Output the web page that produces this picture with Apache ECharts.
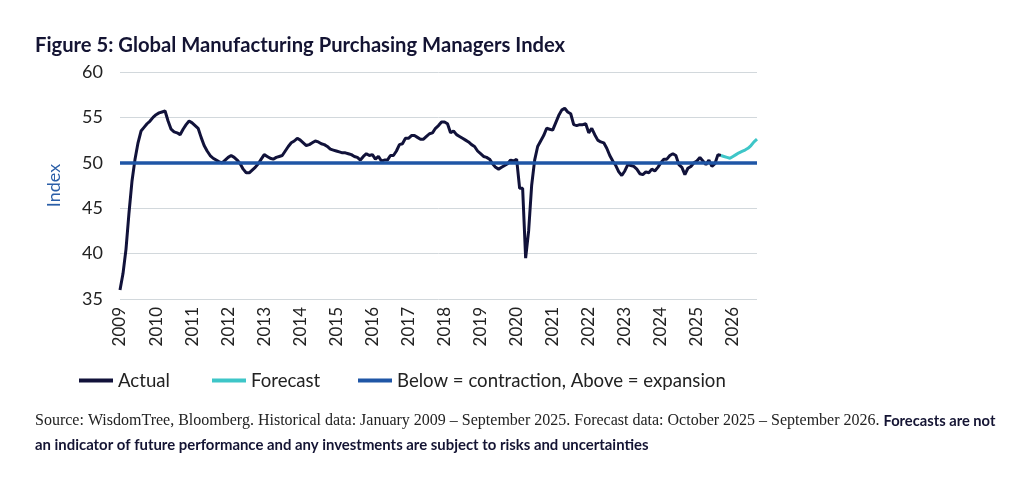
<!DOCTYPE html>
<html>
<head>
<meta charset="utf-8">
<script src="https://cdn.jsdelivr.net/npm/echarts@6/dist/echarts.min.js"></script>
<style>
html,body{margin:0;padding:0;background:#fff;}
#c{width:1014px;height:479px;}
</style>
</head>
<body>
<div id="c"></div>
<script>
// Tick labels (January of each year)
const YEARS = [2009,2010,2011,2012,2013,2014,2015,2016,2017,2018,2019,2020,2021,2022,2023,2024,2025,2026];
const LAST_YEAR_MONTHS = 9; // data runs to September 2026

// Actual PMI, Jan 2009 - Sep 2025 (monthly)
const ACTUAL_2009 = [36.0,37.8,40.5,44.5,48.0,50.4,52.2,53.5,53.9,54.3,54.6,55.0];
const ACTUAL_2010 = [55.3,55.5,55.6,55.7,54.6,53.7,53.4,53.3,53.1,53.7,54.2,54.6];
const ACTUAL_2011 = [54.4,54.1,53.8,52.8,51.9,51.3,50.8,50.5,50.3,50.1,50.0,50.3];
const ACTUAL_2012 = [50.6,50.8,50.6,50.3,49.9,49.3,48.9,48.9,49.2,49.5,49.9,50.4];
const ACTUAL_2013 = [50.9,50.7,50.5,50.4,50.6,50.7,50.8,51.3,51.8,52.2,52.4,52.7];
const ACTUAL_2014 = [52.5,52.2,51.9,52.0,52.2,52.4,52.3,52.1,52.0,51.8,51.5,51.4];
const ACTUAL_2015 = [51.3,51.2,51.1,51.1,51.0,50.9,50.7,50.6,50.3,50.7,51.0,50.8];
const ACTUAL_2016 = [50.9,50.4,50.7,50.2,50.3,50.3,50.8,50.8,51.3,52.0,52.1,52.7];
const ACTUAL_2017 = [52.7,53.0,53.0,52.8,52.6,52.6,52.9,53.2,53.3,53.8,54.1,54.5];
const ACTUAL_2018 = [54.5,54.3,53.3,53.5,53.1,52.9,52.7,52.5,52.3,52.0,51.8,51.3];
const ACTUAL_2019 = [51.0,50.7,50.6,50.4,49.9,49.5,49.3,49.5,49.7,49.9,50.3,50.2];
const ACTUAL_2020 = [50.4,47.2,47.2,39.5,42.5,47.5,50.3,51.8,52.4,53.0,53.8,53.7];
const ACTUAL_2021 = [53.6,54.4,55.2,55.8,56.0,55.6,55.4,54.2,54.1,54.2,54.2,54.3];
const ACTUAL_2022 = [53.3,53.8,53.1,52.5,52.3,52.2,51.6,50.8,50.2,49.7,49.0,48.6];
const ACTUAL_2023 = [49.1,49.8,49.7,49.6,49.3,48.8,48.7,49.0,48.9,49.3,49.1,49.5];
const ACTUAL_2024 = [50.0,50.4,50.4,50.8,51.0,50.8,49.8,49.5,48.7,49.4,49.6,50.0];
const ACTUAL_2025 = [50.2,50.6,50.2,49.8,50.3,49.6,49.9,50.9,50.8];

// Forecast, Sep 2025 (join point) - Sep 2026
const FORECAST = [50.8,50.7,50.6,50.5,50.7,50.9,51.1,51.25,51.4,51.6,51.9,52.3,52.6];

const THRESHOLD = 50;

const ACTUAL = [].concat(ACTUAL_2009,ACTUAL_2010,ACTUAL_2011,ACTUAL_2012,ACTUAL_2013,ACTUAL_2014,
  ACTUAL_2015,ACTUAL_2016,ACTUAL_2017,ACTUAL_2018,ACTUAL_2019,ACTUAL_2020,ACTUAL_2021,ACTUAL_2022,
  ACTUAL_2023,ACTUAL_2024,ACTUAL_2025);

const categories = [];
YEARS.forEach((y, k) => {
  const n = (k === YEARS.length - 1) ? LAST_YEAR_MONTHS : 12;
  for (let m = 1; m <= n; m++) categories.push(y + '-' + (m < 10 ? '0' + m : m));
});
const forecastData = new Array(ACTUAL.length - 1).fill(null).concat(FORECAST);

const FONT = 'Lato';
const legendBase = {
  top: 366, icon: 'rect', itemWidth: 34, itemHeight: 4,
  textStyle: {fontFamily: FONT, fontSize: 18.6, color: '#222'}
};
const chart = echarts.init(document.getElementById('c'), null, {renderer: 'canvas'});
chart.setOption({
  animation: false,
  backgroundColor: '#ffffff',
  title: {
    text: 'Figure 5: Global Manufacturing Purchasing Managers Index',
    left: 30, top: 30,
    textStyle: {fontFamily: FONT, fontWeight: 'bold', fontSize: 20.2, color: '#141433'}
  },
  grid: {left: 120, right: 257, top: 72, bottom: 180, containLabel: false, outerBoundsMode: 'none'},
  legend: [
    Object.assign({left: 74, data: ['Actual']}, legendBase),
    Object.assign({left: 207, data: ['Forecast']}, legendBase),
    Object.assign({left: 353, data: ['Below = contraction, Above = expansion']}, legendBase)
  ],
  xAxis: {
    type: 'category',
    data: categories,
    boundaryGap: false,
    axisLine: {show: false},
    axisTick: {show: false},
    splitLine: {show: false},
    axisLabel: {
      rotate: 90, interval: 11, margin: 8,
      fontFamily: FONT, fontSize: 17, color: '#222',
      formatter: v => v.slice(0, 4)
    }
  },
  yAxis: {
    type: 'value', min: 35, max: 60, interval: 5,
    name: 'Index', nameLocation: 'middle', nameGap: 57, nameRotate: 90,
    nameTextStyle: {fontFamily: FONT, fontSize: 18, color: '#2b5fa8'},
    axisLine: {show: false},
    axisTick: {show: false},
    axisLabel: {margin: 17, fontFamily: FONT, fontSize: 18, color: '#222'},
    splitLine: {lineStyle: {color: '#d2d8dc', width: 1}}
  },
  series: [
    {
      name: 'Actual', type: 'line', data: ACTUAL,
      showSymbol: false, color: '#11123a',
      lineStyle: {width: 3, color: '#11123a'}, z: 3
    },
    {
      name: 'Forecast', type: 'line', data: forecastData,
      showSymbol: false, color: '#3ec6c8',
      lineStyle: {width: 3, color: '#3ec6c8'}, z: 3
    },
    {
      name: 'Below = contraction, Above = expansion', type: 'line', data: [],
      color: '#1f56a6',
      markLine: {
        silent: true, symbol: 'none', label: {show: false},
        lineStyle: {type: 'solid', width: 3.5, color: '#1f56a6'},
        data: [{yAxis: THRESHOLD}]
      },
      z: 4
    }
  ],
  graphic: [
    {
      type: 'text', left: 35, top: 413,
      style: {
        rich: {
          s: {fontFamily: 'Liberation Serif', fontSize: 16, fill: '#222'},
          b: {fontFamily: FONT, fontWeight: 'bold', fontSize: 14.7, fill: '#141433'}
        },
        text: '{s|Source: WisdomTree, Bloomberg. Historical data: January 2009 \u2013 September 2025. Forecast data: October 2025 \u2013 September 2026. }{b|Forecasts are not}'
      }
    },
    {
      type: 'text', left: 35, top: 438,
      style: {
        text: 'an indicator of future performance and any investments are subject to risks and uncertainties',
        fontFamily: FONT, fontWeight: 'bold', fontSize: 14.9, fill: '#141433'
      }
    }
  ]
});
</script>
</body>
</html>
